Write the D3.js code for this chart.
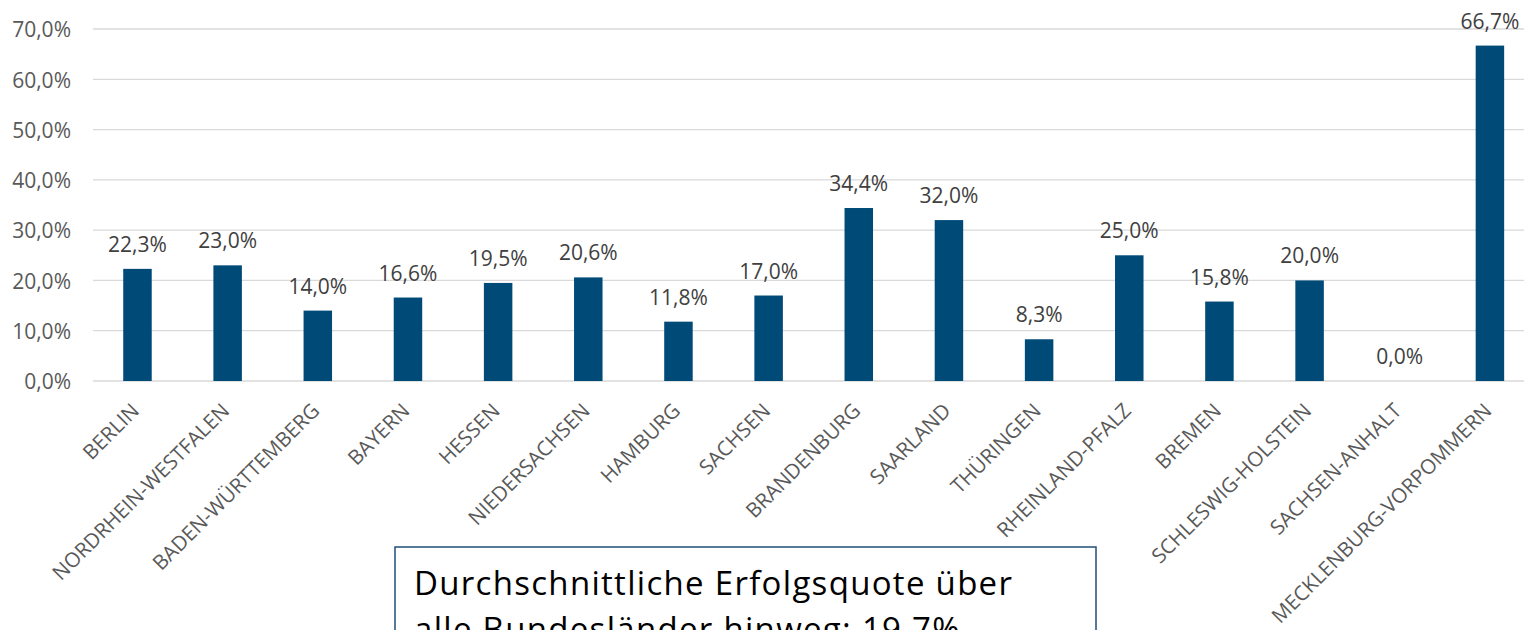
<!DOCTYPE html>
<html>
<head>
    <meta charset="utf-8">
    <title>Erfolgsquote nach Bundesland</title>
    <script src="https://d3js.org/d3.v7.min.js"></script>
    <style>
        body { margin: 0; background: #fff; }
        svg { display: block; font-family: "Open Sans", sans-serif; }
    </style>
</head>
<body>
<svg width="1524" height="630"></svg>
<script>
    // data
    var states = ["BERLIN", "NORDRHEIN-WESTFALEN", "BADEN-WÜRTTEMBERG", "BAYERN", "HESSEN",
        "NIEDERSACHSEN", "HAMBURG", "SACHSEN", "BRANDENBURG", "SAARLAND", "THÜRINGEN",
        "RHEINLAND-PFALZ", "BREMEN", "SCHLESWIG-HOLSTEIN", "SACHSEN-ANHALT", "MECKLENBURG-VORPOMMERN"];
    var quotes = [22.3, 23.0, 14.0, 16.6, 19.5, 20.6, 11.8, 17.0, 34.4, 32.0, 8.3, 25.0, 15.8, 20.0, 0.0, 66.7];
    var yTicks = [0, 10, 20, 30, 40, 50, 60, 70];
    var noteLines = ["Durchschnittliche Erfolgsquote über", "alle Bundesländer hinweg: 19,7%"];

    var svg = d3.select("svg");
    var data = states.map(function(s, i) { return {state: s, value: quotes[i]}; });

    var x = d3.scaleBand().domain(states).range([92.4, 1535])
        .paddingInner(0.684).paddingOuter(0.342);
    var y = d3.scaleLinear().domain([0, 70]).range([381, 29]);

    var fmt = function(v) { return v.toFixed(1).replace(".", ",") + "%"; };

    // gridlines
    svg.append("g").selectAll("line")
        .data(yTicks)
        .enter().append("line")
        .attr("x1", 93).attr("x2", 1524)
        .attr("y1", function(d) { return y(d); })
        .attr("y2", function(d) { return y(d); })
        .attr("stroke", "#d9d9d9")
        .attr("stroke-width", 1.3);

    // y axis labels
    var yAxis = svg.append("g")
        .attr("transform", "translate(79,1)")
        .call(d3.axisLeft(y).tickValues(yTicks).tickSize(0).tickPadding(8).tickFormat(fmt));
    yAxis.select(".domain").remove();
    yAxis.selectAll("text")
        .attr("fill", "#595959")
        .style("font-size", "21px")
        .style("font-family", "'Open Sans', sans-serif");

    // bars
    svg.append("g").selectAll("rect")
        .data(data)
        .enter().append("rect")
        .attr("x", function(d) { return x(d.state); })
        .attr("y", function(d) { return y(d.value); })
        .attr("width", x.bandwidth())
        .attr("height", function(d) { return y(0) - y(d.value); })
        .attr("fill", "#004a78");

    // value labels
    svg.append("g").selectAll("text")
        .data(data)
        .enter().append("text")
        .attr("x", function(d) { return x(d.state) + x.bandwidth() / 2; })
        .attr("y", function(d) { return y(d.value) - 17; })
        .attr("text-anchor", "middle")
        .attr("fill", "#404040")
        .style("font-size", "21px")
        .text(function(d) { return fmt(d.value); });

    // category labels
    svg.append("g").selectAll("text")
        .data(states)
        .enter().append("text")
        .attr("transform", function(d) {
            return "translate(" + (x(d) + x.bandwidth() / 2 + 3) + ",412) rotate(-45)";
        })
        .attr("text-anchor", "end")
        .attr("fill", "#595959")
        .style("font-size", "20.5px")
        .text(function(d) { return d; });

    // note box
    var note = svg.append("g");
    note.append("rect")
        .attr("x", 395).attr("y", 547)
        .attr("width", 701).attr("height", 120)
        .attr("fill", "#fff")
        .attr("stroke", "#1f4e79")
        .attr("stroke-width", 1.5);
    note.selectAll("text")
        .data(noteLines)
        .enter().append("text")
        .attr("x", 414)
        .attr("y", function(d, i) { return 595 + i * 46; })
        .attr("fill", "#000")
        .style("font-size", "33px")
        .style("letter-spacing", "1.3px")
        .text(function(d) { return d; });
</script>
</body>
</html>
